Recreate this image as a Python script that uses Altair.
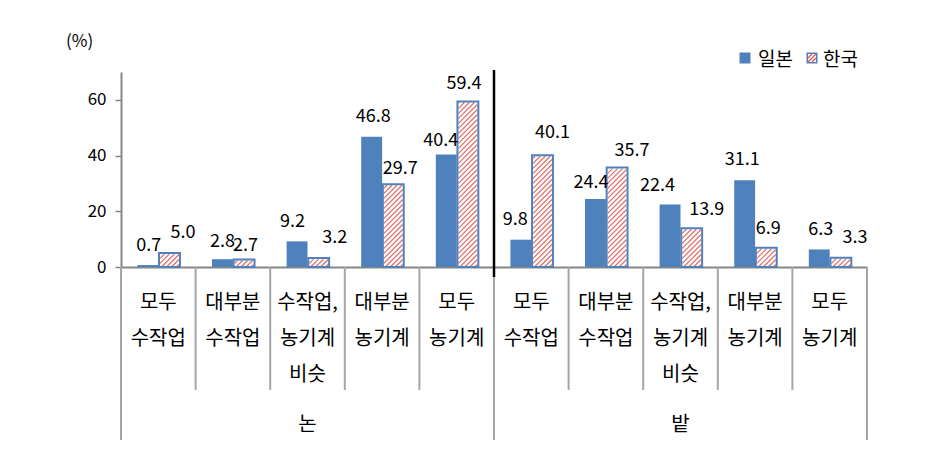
import altair as alt
import pandas as pd
import numpy as np

# ---------------- data ----------------
categories = ["모두\n수작업", "대부분\n수작업", "수작업,\n농기계\n비슷", "대부분\n농기계", "모두\n농기계",
              "모두\n수작업", "대부분\n수작업", "수작업,\n농기계\n비슷", "대부분\n농기계", "모두\n농기계"]
groups = ["논", "논", "논", "논", "논", "밭", "밭", "밭", "밭", "밭"]
japan = [0.7, 2.8, 9.2, 46.8, 40.4, 9.8, 24.4, 22.4, 31.1, 6.3]
korea = [5.0, 2.7, 3.2, 29.7, 59.4, 40.1, 35.7, 13.9, 6.9, 3.3]
series_names = ["일본", "한국"]
y_ticks = [0, 20, 40, 60]
y_max = 70
unit_label = "(%)"

# label nudges in pixels: (horizontal shift, gap above bar top) - styling only
japan_label_nudge = [(1, 14), (0, 12.5), (-4.5, 14), (1.5, 15), (-5.5, 8),
                     (-5.5, 15), (-4.5, 11), (-12.5, 14), (-2.5, 15), (1.5, 14)]
korea_label_nudge = [(13.5, 15), (1.5, 8), (16, 15), (7, 10), (-4, 13),
                     (10, 17), (15, 11.5), (15, 13), (2, 13.5), (14, 14.5)]

# ---------------- layout / style ----------------
W, H = 746, 195
PAD = {"left": 121, "top": 72, "right": 84, "bottom": 184}
n = len(categories)
PX_X = W / n
PX_Y = H / y_max
BLUE = "#4F81BD"
RED = "#D9534F"
AXIS = "#868686"
SEP = "#A6A6A6"
FONT = "Noto Sans CJK KR"
J0, J1 = 0.22, 0.50
K0, K1 = 0.51, 0.79

df = pd.DataFrame({"idx": list(range(n)), "cat": categories, "group": groups,
                   "japan": japan, "korea": korea})

xscale = alt.Scale(domain=[0, n], nice=False, zero=False)
xaxis = alt.Axis(labels=False, ticks=False, title=None, grid=False,
                 domainColor=AXIS, domainWidth=2)
yscale = alt.Scale(domain=[0, y_max], nice=False)
yaxis = alt.Axis(values=y_ticks, title=None, grid=False, domainColor=AXIS, domainWidth=2,
                 tickColor=AXIS, tickWidth=1.5, tickSize=6, labelPadding=9,
                 labelFont=FONT, labelFontSize=17, labelColor="black")


def X(field):
    return alt.X(field, type="quantitative", scale=xscale, axis=xaxis)


def Y(field):
    return alt.Y(field, type="quantitative", scale=yscale, axis=yaxis)


base = alt.Chart(df)

jp_bars = base.mark_bar(fill=BLUE, stroke=None).transform_calculate(
    x0=f"datum.idx + {J0}", x1=f"datum.idx + {J1}"
).encode(x=X("x0"), x2="x1", y=Y("japan"), y2=alt.datum(0))

kr_fill = base.mark_bar(fill="white", stroke=None).transform_calculate(
    x0=f"datum.idx + {K0}", x1=f"datum.idx + {K1}"
).encode(x=X("x0"), x2="x1", y=Y("korea"), y2=alt.datum(0))

kr_outline = base.mark_bar(fill="white", fillOpacity=0, stroke=BLUE, strokeWidth=2).transform_calculate(
    x0=f"datum.idx + {K0}", x1=f"datum.idx + {K1}"
).encode(x=X("x0"), x2="x1", y=Y("korea"), y2=alt.datum(0))

# hatch stripes for Korea bars ("/" direction), derived from the values
S = 5.0
rows = []
for i, v in enumerate(korea):
    xl = (i + K0) * PX_X + 1.0
    xr = (i + K1) * PX_X - 1.0
    w = xr - xl
    h = v * PX_Y - 1.0
    if h <= 0:
        continue
    for c in np.arange(-w + S * 0.5, h, S):
        us = max(0.0, -c)
        ue = min(w, h - c)
        if ue - us < 0.8:
            continue
        rows.append({"sx": (xl + us) / PX_X, "sy": (c + us) / PX_Y,
                     "ex": (xl + ue) / PX_X, "ey": (c + ue) / PX_Y})
stripes_df = pd.DataFrame(rows)
stripes = alt.Chart(stripes_df).mark_rule(color=RED, strokeWidth=1.2, opacity=0.85).encode(
    x=X("sx"), y=Y("sy"), x2="ex", y2="ey")

# value labels
lab_rows = []
for i in range(n):
    dxj, gj = japan_label_nudge[i]
    dxk, gk = korea_label_nudge[i]
    lab_rows.append({"lx": i + (J0 + J1) / 2 + dxj / PX_X, "ly": japan[i] + gj / PX_Y,
                     "txt": f"{japan[i]:.1f}"})
    lab_rows.append({"lx": i + (K0 + K1) / 2 + dxk / PX_X, "ly": korea[i] + gk / PX_Y,
                     "txt": f"{korea[i]:.1f}"})
labels = alt.Chart(pd.DataFrame(lab_rows)).mark_text(
    font=FONT, fontSize=18, color="black", baseline="alphabetic", align="center"
).encode(x=X("lx"), y=Y("ly"), text="txt:N")

# category separators
inner_b = [i for i in range(1, n) if groups[i] == groups[i - 1]]
outer_b = [0] + [i for i in range(1, n) if groups[i] != groups[i - 1]] + [n]
sep_inner = alt.Chart(pd.DataFrame({"b": inner_b})).mark_rule(color=SEP, strokeWidth=2).encode(
    x=X("b"), y=alt.value(H), y2=alt.value(H + 123))
sep_outer = alt.Chart(pd.DataFrame({"b": outer_b})).mark_rule(color=SEP, strokeWidth=2).encode(
    x=X("b"), y=alt.value(H), y2=alt.value(H + 173))
mid_b = [b for b in outer_b if 0 < b < n]
black_line = alt.Chart(pd.DataFrame({"b": mid_b})).mark_rule(color="black", strokeWidth=2.5).encode(
    x=X("b"), y=alt.value(-2), y2=alt.value(H + 10))

# category labels
cat_text = base.mark_text(font=FONT, fontSize=20, color="black", baseline="top", align="center",
                          lineBreak="\n", lineHeight=36).transform_calculate(
    cx="datum.idx + 0.5"
).encode(x=X("cx"), y=alt.value(H + 26), text="cat:N")

grp_df = pd.DataFrame({"group": list(dict.fromkeys(groups))})
grp_df["gx"] = [(outer_b[k] + outer_b[k + 1]) / 2 for k in range(len(grp_df))]
grp_text = alt.Chart(grp_df).mark_text(font=FONT, fontSize=20, color="black",
                                       baseline="alphabetic", align="center").encode(
    x=X("gx"), y=alt.value(H + 164), text="group:N")

# unit label and legend
one = alt.Chart(pd.DataFrame({"t": [unit_label]}))
unit_text = one.mark_text(font=FONT, fontSize=17, color="black", align="left", baseline="middle").encode(
    x=alt.value(-55), y=alt.value(-30), text="t:N")

leg = pd.DataFrame({"name": series_names})
leg_j = alt.Chart(leg.iloc[[0]]).mark_square(size=121, color=BLUE, opacity=1).encode(
    x=alt.value(624), y=alt.value(-14))
leg_k_box = alt.Chart(leg.iloc[[1]]).mark_point(shape="M-1,-1H1V1H-1Z", size=90, filled=True,
                                                 fill="white", stroke=BLUE, strokeWidth=1.5,
                                                 opacity=1).encode(x=alt.value(691), y=alt.value(-14))
leg_k_hatch = alt.Chart(leg.iloc[[1]]).mark_point(shape="M-1,1L1,-1M-1,0L0,-1M0,1L1,0", size=64,
                                                   filled=False, stroke=RED, strokeWidth=1.2,
                                                   opacity=1).encode(x=alt.value(691), y=alt.value(-14))
leg_j_text = alt.Chart(leg.iloc[[0]]).mark_text(font=FONT, fontSize=19, color="black", align="left",
                                                baseline="middle").encode(
    x=alt.value(637), y=alt.value(-12), text="name:N")
leg_k_text = alt.Chart(leg.iloc[[1]]).mark_text(font=FONT, fontSize=19, color="black", align="left",
                                                baseline="middle").encode(
    x=alt.value(702), y=alt.value(-12), text="name:N")

chart = alt.layer(
    jp_bars, kr_fill, stripes, kr_outline, labels,
    sep_inner, sep_outer, black_line, cat_text, grp_text,
    unit_text, leg_j, leg_k_box, leg_k_hatch, leg_j_text, leg_k_text
).properties(
    width=W, height=H, padding=PAD, background="white",
    autosize=alt.AutoSizeParams(type="none")
).configure_view(stroke=None)

chart.save("out.html", embed_options={"renderer": "svg", "actions": False})
